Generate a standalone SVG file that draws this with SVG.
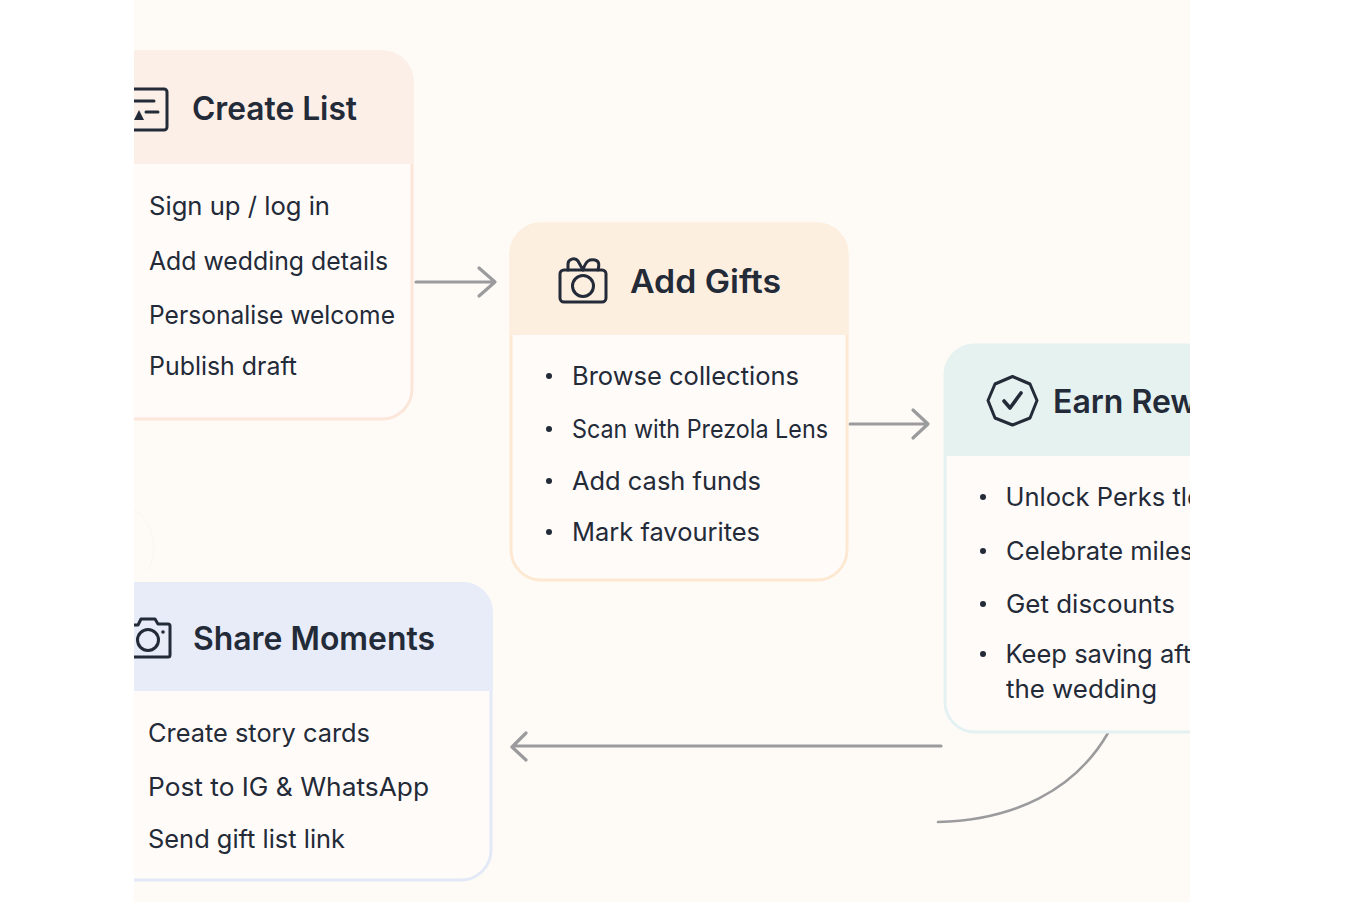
<svg xmlns="http://www.w3.org/2000/svg" width="1360" height="902" viewBox="0 0 1360 902">
<style>
text{font-family:Inter,"Liberation Sans",sans-serif;fill:#232a38;lengthAdjust:spacingAndGlyphs}
.t{font-size:32px;font-weight:600}
.b{font-size:25.5px;font-weight:400}
.i{fill:none;stroke:#232a38;stroke-width:3;stroke-linejoin:round;stroke-linecap:round}
.c{fill:none;stroke:#9b9b9d;stroke-width:3.2;stroke-linecap:round;stroke-linejoin:round}
.d{fill:#232a38}
.body{fill:#fffbf8;stroke-width:3}
</style>
<defs><clipPath id="clip"><rect x="134" y="0" width="1056" height="902"/></clipPath></defs>
<rect width="1360" height="902" fill="#fff"/>
<g clip-path="url(#clip)">
<rect x="134" y="0" width="1056" height="902" fill="#fefbf7"/>
<g id="connectors">
<path class="c" d="M416 282H494M479 268L495 282L479 296"/>
<path class="c" d="M850 424H927M913 410L928 424L913 438"/>
<path class="c" d="M941 746H513M526 733L512 747L526 760"/>
<path class="c" d="M1108 733C1075 790 1015 820 938 822" style="stroke-width:2.5"/>
<path d="M134 510C152 520 160 550 148 570" fill="none" stroke="#fcf7f2" stroke-width="2"/>
</g>
<g id="create-list">
<rect class="body" x="60" y="52" width="352" height="367" rx="30" stroke="#fce6da"/>
<path d="M60 164V81a30 30 0 0 1 30-30H384a30 30 0 0 1 30 30V164Z" fill="#fcefe8"/>
<path class="i" d="M134 89H164a3 3 0 0 1 3 3V127a3 3 0 0 1-3 3H134M134 101H154M146 112H158"/>
<path class="d" d="M134 120L139 110L144 120Z"/>
<text class="t" x="192" y="120" textLength="165" lengthAdjust="spacingAndGlyphs">Create List</text>
<text class="b" x="149" y="215" textLength="181" lengthAdjust="spacingAndGlyphs">Sign up / log in</text>
<text class="b" x="149" y="270" textLength="239" lengthAdjust="spacingAndGlyphs">Add wedding details</text>
<text class="b" x="149" y="324" textLength="246" lengthAdjust="spacingAndGlyphs">Personalise welcome</text>
<text class="b" x="149" y="375" textLength="148" lengthAdjust="spacingAndGlyphs">Publish draft</text>
</g>
<g id="add-gifts">
<rect class="body" x="511" y="224" width="336" height="356" rx="30" stroke="#fde8d2"/>
<path d="M510 335V253a30 30 0 0 1 30-30H818a30 30 0 0 1 30 30V335Z" fill="#fdefdf"/>
<rect class="i" x="560" y="270" width="46" height="32" rx="4"/>
<circle class="i" cx="583" cy="286" r="10.5"/>
<path class="i" d="M568 270V264C568 259 575 257 578 261L583 270M583 270C586 260 590 259 595 260C600 261 599 266 598 270"/>
<text class="t" x="630" y="293" textLength="151" lengthAdjust="spacingAndGlyphs">Add Gifts</text>
<circle class="d" cx="549" cy="376" r="3"/><circle class="d" cx="549" cy="429" r="3"/><circle class="d" cx="549" cy="481" r="3"/><circle class="d" cx="549" cy="532" r="3"/>
<text class="b" x="572" y="385" textLength="227" lengthAdjust="spacingAndGlyphs">Browse collections</text>
<text class="b" x="572" y="438" textLength="256" lengthAdjust="spacingAndGlyphs">Scan with Prezola Lens</text>
<text class="b" x="572" y="490" textLength="189" lengthAdjust="spacingAndGlyphs">Add cash funds</text>
<text class="b" x="572" y="541" textLength="188" lengthAdjust="spacingAndGlyphs">Mark favourites</text>
</g>
<g id="earn-rewards">
<rect class="body" x="945" y="345" width="400" height="387" rx="30" stroke="#e4f1f2"/>
<path d="M944 456V374a30 30 0 0 1 30-30H1300V456Z" fill="#e6f2ef"/>
<path class="i" d="M1012.500 376.500L1030 384L1037 400.500L1030 418L1012.500 425L995 418L988 400.500L995 384Z"/>
<path class="i" d="M1004 401L1010 408L1021 393" style="stroke-width:3.6"/>
<text class="t" x="1053" y="413">Earn Rewards</text>
<circle class="d" cx="983" cy="497" r="3"/><circle class="d" cx="983" cy="551" r="3"/><circle class="d" cx="983" cy="604" r="3"/><circle class="d" cx="983" cy="654" r="3"/>
<text class="b" x="1005.500" y="506">Unlock Perks tle</text>
<text class="b" x="1006" y="560">Celebrate milestones</text>
<text class="b" x="1006" y="613" textLength="169" lengthAdjust="spacingAndGlyphs">Get discounts</text>
<text class="b" x="1005.500" y="663">Keep saving after</text>
<text class="b" x="1006" y="698" textLength="151" lengthAdjust="spacingAndGlyphs">the wedding</text>
</g>
<g id="share-moments">
<rect class="body" x="60" y="584" width="431" height="296" rx="30" stroke="#e3e9f6"/>
<path d="M60 691V612a30 30 0 0 1 30-30H463a30 30 0 0 1 30 30V691Z" fill="#e7ecf8"/>
<path class="i" d="M134 625H138L141 619H155L158 624H168a2 2 0 0 1 2 2V655a2 2 0 0 1-2 2H134"/>
<circle class="i" cx="148" cy="640" r="10.5"/>
<circle class="d" cx="163" cy="632" r="1.8"/>
<text class="t" x="193" y="650" textLength="242" lengthAdjust="spacingAndGlyphs">Share Moments</text>
<text class="b" x="148" y="742" textLength="222" lengthAdjust="spacingAndGlyphs">Create story cards</text>
<text class="b" x="148" y="796" textLength="281" lengthAdjust="spacingAndGlyphs">Post to IG &amp; WhatsApp</text>
<text class="b" x="148" y="848" textLength="197" lengthAdjust="spacingAndGlyphs">Send gift list link</text>
</g>
</g>
</svg>
